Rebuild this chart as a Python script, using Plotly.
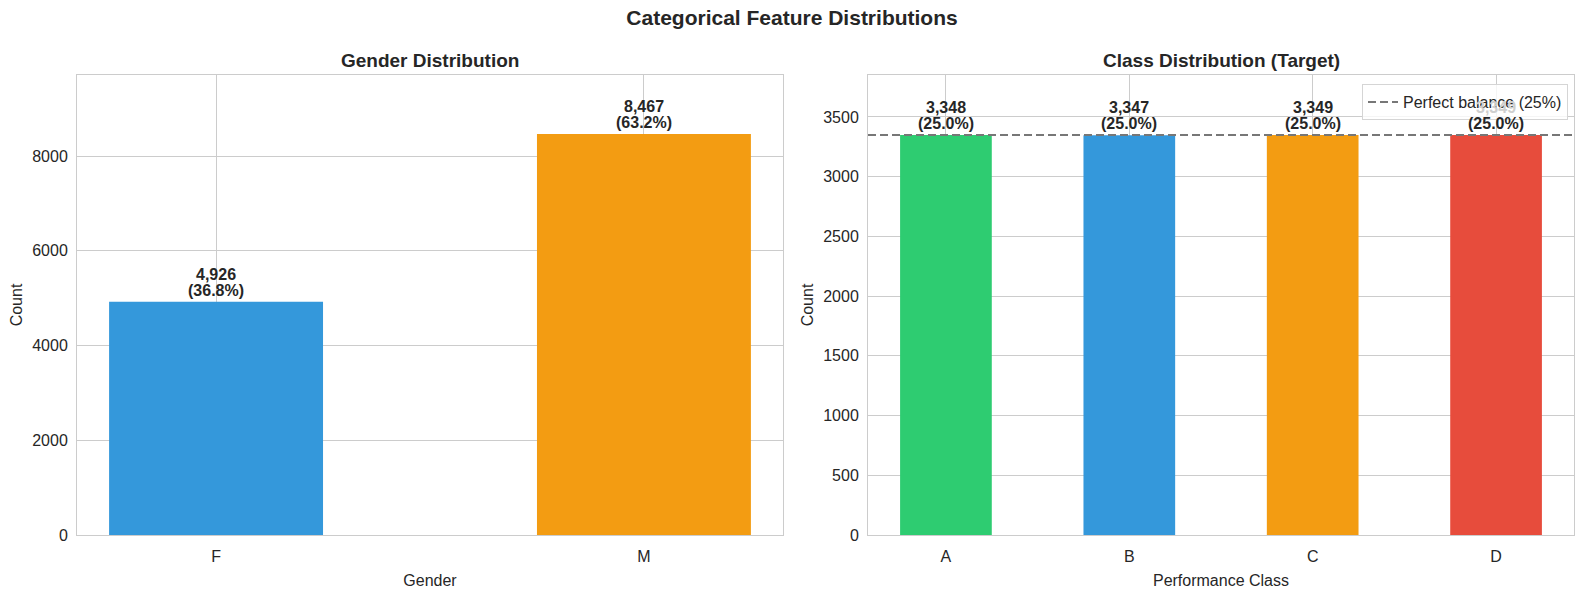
import plotly.graph_objects as go
from plotly.subplots import make_subplots

genders = ["F", "M"]
gender_counts = [4926, 8467]
gender_colors = ["#3498db", "#f39c12"]

classes = ["A", "B", "C", "D"]
class_counts = [3348, 3347, 3349, 3349]
class_colors = ["#2ecc71", "#3498db", "#f39c12", "#e74c3c"]

FONT = "Liberation Sans, Arial, sans-serif"
GRID = "#cccccc"
TXT = "#262626"

xdom1 = [77 / 1584, 783 / 1584]
xdom2 = [868 / 1584, 1574 / 1584]
ydom = [1 - 535 / 590, 1 - 75 / 590]

fig = make_subplots(rows=1, cols=2)

fig.add_bar(x=genders, y=gender_counts, marker_color=gender_colors, width=0.5,
            marker_line_width=0, showlegend=False, row=1, col=1)
fig.add_bar(x=classes, y=class_counts, marker_color=class_colors, width=0.5,
            marker_line_width=0, showlegend=False, row=1, col=2)


def add_labels(cats, vals, xref, yref, faded=()):
    total = sum(vals)
    for c, v in zip(cats, vals):
        # two separate lines so the spacing stays tight like matplotlib
        fig.add_annotation(x=c, y=v, xref=xref, yref=yref, yanchor="bottom", yshift=1,
                           text=f"<b>({v / total * 100:.1f}%)</b>", showarrow=False,
                           font=dict(size=16, color=TXT, family=FONT))
        # the count sitting under the legend shows through its translucent box
        col = "#cfcfcf" if c in faded else TXT
        fig.add_annotation(x=c, y=v, xref=xref, yref=yref, yanchor="bottom", yshift=17,
                           text=f"<b>{v:,}</b>", showarrow=False,
                           font=dict(size=16, color=col, family=FONT))


add_labels(genders, gender_counts, "x", "y")
add_labels(classes, class_counts, "x2", "y2", faded=("D",))

# subplot titles
for dom, t in [(xdom1, "Gender Distribution"), (xdom2, "Class Distribution (Target)")]:
    fig.add_annotation(x=(dom[0] + dom[1]) / 2, y=ydom[1], xref="paper", yref="paper",
                       xanchor="center", yanchor="bottom", yshift=2, showarrow=False,
                       text=f"<b>{t}</b>", font=dict(size=19, color=TXT, family=FONT))

# perfect balance line
balance = sum(class_counts) / len(classes)
fig.add_shape(type="line", xref="x2 domain", yref="y2", x0=0, x1=1, y0=balance, y1=balance,
              line=dict(color="#777777", dash="8px,4px", width=2))
fig.add_scatter(x=[None], y=[None], mode="lines",
                line=dict(color="#777777", dash="8px,4px", width=2),
                name="Perfect balance (25%)", row=1, col=2)

fig.update_layout(
    width=1584, height=590,
    plot_bgcolor="white", paper_bgcolor="white",
    margin=dict(l=0, r=0, t=0, b=0),
    font=dict(family=FONT, size=16, color=TXT),
    title=dict(text="<b>Categorical Feature Distributions</b>", x=0.5, xanchor="center",
               y=1 - 18 / 590, yanchor="middle", font=dict(size=21, color=TXT)),
    legend=dict(x=1568 / 1584, xanchor="right", y=1 - 84 / 590, yanchor="top",
                bordercolor="#d5d5d5", borderwidth=1, bgcolor="rgba(255,255,255,0.8)",
                font=dict(size=16), itemwidth=30, tracegroupgap=0),
)

fig.update_xaxes(showgrid=True, gridcolor=GRID, showline=True, linecolor=GRID, mirror=True,
                 ticks="", tickfont=dict(size=16), title_font=dict(size=16), automargin=False,
                 ticklabelstandoff=7, title_standoff=10)
fig.update_yaxes(showgrid=True, gridcolor=GRID, showline=True, linecolor=GRID, mirror=True,
                 ticks="", tickfont=dict(size=16), title_font=dict(size=16), zeroline=False,
                 automargin=False, ticklabelstandoff=5, title_text="Count", title_standoff=5)

fig.update_xaxes(domain=xdom1, range=[-0.325, 1.325], title_text="Gender", row=1, col=1)
fig.update_xaxes(domain=xdom2, range=[-0.425, 3.425], title_text="Performance Class", row=1, col=2)
fig.update_yaxes(domain=ydom, range=[0, 8467 * 1.147], dtick=2000, row=1, col=1)
fig.update_yaxes(domain=ydom, range=[0, 3349 * 1.15], dtick=500, row=1, col=2)

# the default page has an 8px body margin; drop it so the figure fills the window
fig.write_html("out.html", config={"displayModeBar": False},
               post_script="document.body.style.margin='0';")
